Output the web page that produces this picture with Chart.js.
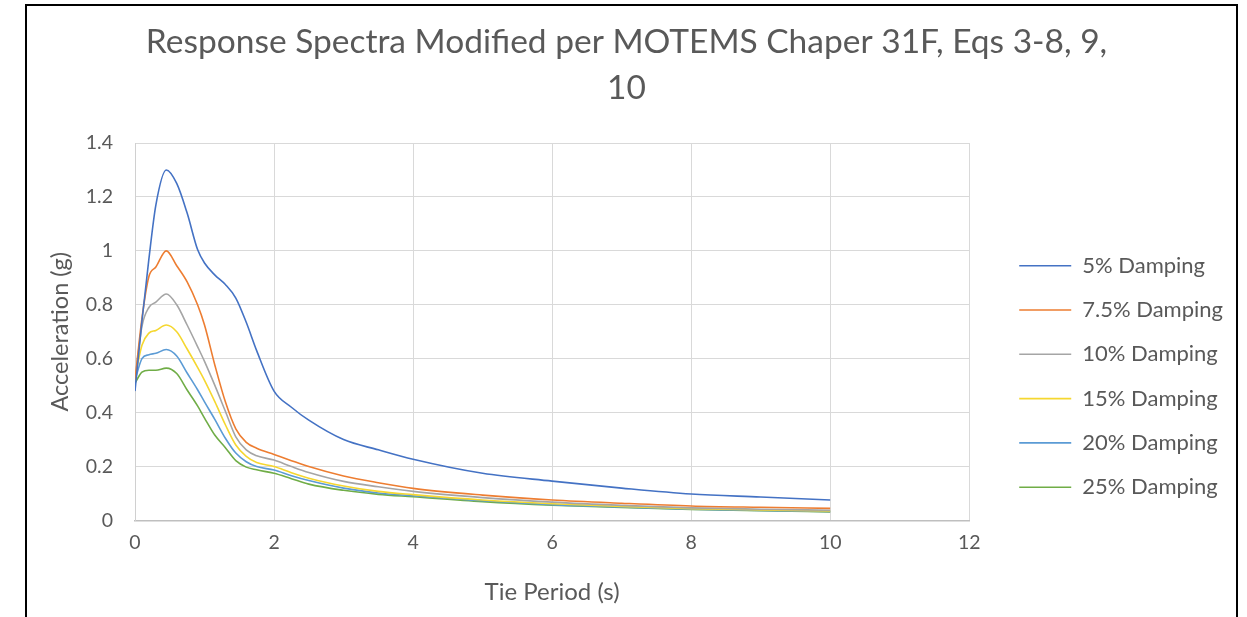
<!DOCTYPE html>
<html>
<head>
<meta charset="utf-8">
<script src="https://cdn.jsdelivr.net/npm/chart.js@4.4.1/dist/chart.umd.min.js"></script>
<style>
  html, body { margin: 0; padding: 0; background: #fff; overflow: hidden; width: 1247px; height: 617px; }
  #chart { position: absolute; left: 0; top: 0; }
  #frame { position: absolute; left: 25px; top: 4px; width: 1213px; height: 700px;
           border: 2.5px solid #000; box-sizing: border-box; pointer-events: none; }
</style>
</head>
<body>
<canvas id="chart" width="1247" height="617"></canvas>
<div id="frame"></div>
<script>
// Periods (s) shared by every damping curve
const periods = [0, 0.1, 0.2, 0.3, 0.45, 0.6, 0.75, 0.9, 1.0, 1.15, 1.3, 1.45, 1.6, 1.75,
                 2.0, 2.25, 2.5, 3, 3.5, 4, 5, 6, 7, 8, 9, 10];

// Spectral acceleration (g) for each damping ratio
const damping5   = [0.48, 0.74, 0.97, 1.17, 1.30, 1.25, 1.14, 1.005, 0.955, 0.91, 0.875, 0.825, 0.735, 0.63,
                    0.48, 0.42, 0.372, 0.30, 0.262, 0.227, 0.175, 0.146, 0.12, 0.098, 0.087, 0.076];
const damping7_5 = [0.52, 0.75, 0.905, 0.94, 1.0, 0.945, 0.885, 0.80, 0.725, 0.575, 0.44, 0.34, 0.29, 0.268,
                    0.245, 0.222, 0.20, 0.165, 0.14, 0.119, 0.094, 0.076, 0.064, 0.054, 0.049, 0.045];
const damping10  = [0.52, 0.72, 0.79, 0.81, 0.84, 0.80, 0.725, 0.645, 0.59, 0.50, 0.405, 0.31, 0.262, 0.24,
                    0.224, 0.20, 0.178, 0.145, 0.125, 0.108, 0.085, 0.068, 0.056, 0.047, 0.042, 0.038];
const damping15  = [0.53, 0.65, 0.695, 0.705, 0.725, 0.70, 0.636, 0.568, 0.52, 0.44, 0.355, 0.28, 0.238, 0.215,
                    0.20, 0.177, 0.157, 0.128, 0.108, 0.096, 0.076, 0.062, 0.052, 0.044, 0.039, 0.035];
const damping20  = [0.52, 0.60, 0.615, 0.62, 0.634, 0.61, 0.547, 0.485, 0.44, 0.374, 0.305, 0.25, 0.218, 0.20,
                    0.187, 0.166, 0.148, 0.12, 0.102, 0.092, 0.073, 0.059, 0.05, 0.042, 0.037, 0.034];
const damping25  = [0.51, 0.55, 0.557, 0.557, 0.565, 0.545, 0.484, 0.425, 0.38, 0.316, 0.27, 0.222, 0.198, 0.188,
                    0.175, 0.155, 0.135, 0.112, 0.097, 0.088, 0.07, 0.057, 0.048, 0.041, 0.036, 0.032];

const seriesNames  = ['5% Damping', '7.5% Damping', '10% Damping', '15% Damping', '20% Damping', '25% Damping'];
const seriesValues = [damping5, damping7_5, damping10, damping15, damping20, damping25];
const seriesColors = ['#4472C4', '#ED7D31', '#A5A5A5', '#F5D730', '#5B9BD5', '#70AD47'];

// Axis tick labels
const xTicks = [0, 2, 4, 6, 8, 10, 12];
const yTicks = [0, 0.2, 0.4, 0.6, 0.8, 1, 1.2, 1.4];

const titleLines = ['Response Spectra Modified per MOTEMS Chaper 31F, Eqs 3-8, 9,', '10'];

const FONT = 'Lato, "Open Sans", sans-serif';
const TEXT = '#595959';

const datasets = seriesNames.map((name, i) => ({
  label: name,
  data: periods.map((t, k) => ({ x: t, y: seriesValues[i][k] })),
  borderColor: seriesColors[i],
  backgroundColor: seriesColors[i],
  borderWidth: 1.6,
  pointRadius: 0,
  showLine: true,
  cubicInterpolationMode: 'monotone'
}));

new Chart(document.getElementById('chart'), {
  type: 'scatter',
  data: { datasets },
  options: {
    responsive: false,
    animation: false,
    devicePixelRatio: 1,
    layout: { padding: { left: 20, right: 14, top: 6, bottom: 5 } },
    plugins: {
      tooltip: { enabled: false },
      title: {
        display: true,
        text: titleLines,
        color: TEXT,
        font: { family: FONT, size: 33.5, weight: 'normal', lineHeight: 46 / 33.5 },
        padding: { top: 13, bottom: 32 }
      },
      legend: {
        position: 'right',
        align: 'end',
        fullSize: false,
        labels: {
          usePointStyle: true,
          pointStyle: 'line',
          pointStyleWidth: 52,
          padding: 22.3,
          color: TEXT,
          font: { family: FONT, size: 22 }
        }
      }
    },
    scales: {
      x: {
        type: 'linear',
        min: 0, max: 12,
        afterBuildTicks: s => { s.ticks = xTicks.map(v => ({ value: v })); },
        afterFit: s => { s.height = 91.5; },
        grid: { color: '#D9D9D9', drawTicks: false },
        border: { color: '#BFBFBF', width: 1.5 },
        ticks: { color: TEXT, font: { family: FONT, size: 19.5 }, padding: 11,
                 callback: v => String(v) },
        title: { display: true, text: 'Tie Period (s)', color: TEXT,
                 font: { family: FONT, size: 24 }, padding: { top: 0, bottom: 5.6 } }
      },
      y: {
        type: 'linear',
        min: 0, max: 1.4,
        afterBuildTicks: s => { s.ticks = yTicks.map(v => ({ value: v })); },
        afterFit: s => { s.width = 115; },
        grid: { color: '#D9D9D9', drawTicks: false },
        border: { color: '#D0D0D0', width: 1 },
        ticks: { color: TEXT, font: { family: FONT, size: 19.5 }, padding: 22,
                 callback: v => String(v) },
        title: { display: true, text: 'Acceleration (g)', color: TEXT,
                 font: { family: FONT, size: 23.5 }, padding: { top: 26, bottom: 0 } }
      },
      // empty spacer between the plot area and the legend
      gap: {
        type: 'linear',
        axis: 'y',
        position: 'right',
        display: false,
        afterFit: s => { s.width = 27.7; }
      }
    }
  }
});
</script>
</body>
</html>
